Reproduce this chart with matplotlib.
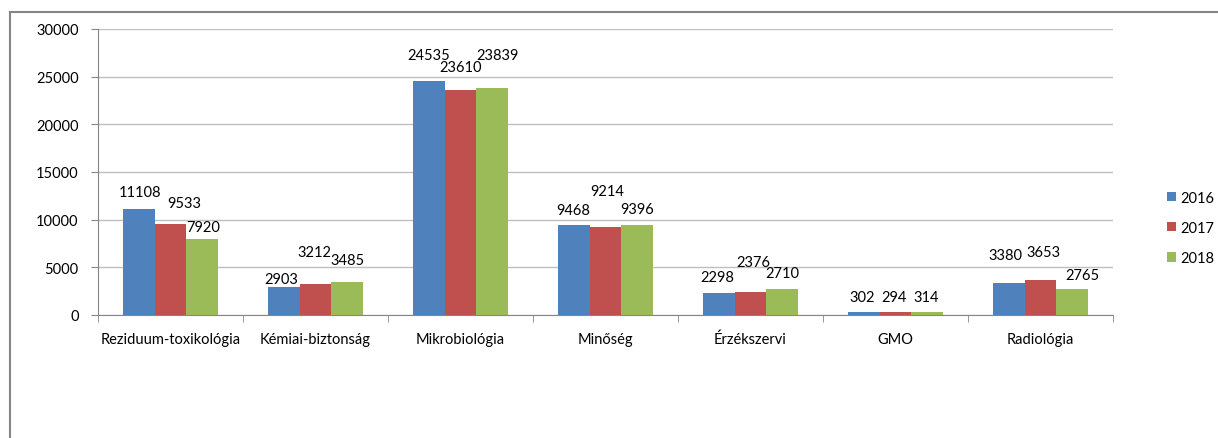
import numpy as np
import matplotlib.pyplot as plt
from matplotlib.lines import Line2D

plt.rcParams['font.family'] = ['Lato', 'DejaVu Sans']

categories = ["Reziduum-toxikológia", "Kémiai-biztonság", "Mikrobiológia",
              "Minőség", "Érzékszervi", "GMO", "Radiológia"]
years = ["2016", "2017", "2018"]
v2016 = [11108, 2903, 24535, 9468, 2298, 302, 3380]
v2017 = [9533, 3212, 23610, 9214, 2376, 294, 3653]
v2018 = [7920, 3485, 23839, 9396, 2710, 314, 2765]
series = [v2016, v2017, v2018]
colors = ["#4F81BD", "#C0504D", "#9BBB59"]

# hand placed label offsets (pixels) as in the original sheet
lab_dx = [[1, 14, 1], [-2, -1, 0], [0, 0, 5], [0, 2, 0], [-1, 3, 0], [-1, -1, -1], [-3, 3, 10]]
lab_dy = [[17, 21, 12], [8, 32, 22], [26, 23, 33], [15, 36, 16], [16, 30, 16], [15, 15, 15], [28, 28, 14]]

fs = 10.5
W, H = 1218, 439
fig = plt.figure(figsize=(W / 100, H / 100), dpi=100)
ax = fig.add_axes([98 / W, 1 - 316 / H, (1113 - 98) / W, (316 - 30) / H])

x = np.arange(len(categories))
bw = 0.22
for i, (vals, c, yr) in enumerate(zip(series, colors, years)):
    pos = x + (i - 1) * bw
    ax.bar(pos, vals, bw, color=c, label=yr, zorder=3)
    for j, v in enumerate(vals):
        ax.annotate(str(v), (pos[j], v), xytext=(lab_dx[j][i], lab_dy[j][i]),
                    textcoords='offset pixels', ha='center', va='center',
                    fontsize=fs, color='black')

ax.set_xlim(-0.5, len(categories) - 0.5)
ax.set_ylim(0, 30000)
ax.set_yticks(np.arange(0, 30001, 5000))
ax.grid(axis='y', color='#bfbfbf', linewidth=1, zorder=0)
ax.set_xticks(x)
ax.set_xticklabels(categories)
ax.set_xticks(np.arange(-0.5, len(categories), 1), minor=True)
ax.tick_params(axis='x', which='major', length=0, pad=12, labelsize=fs)
ax.tick_params(axis='x', which='minor', length=5, color='#868686')
ax.tick_params(axis='y', length=5, color='#868686', pad=9, labelsize=fs)
for s in ['top', 'right']:
    ax.spines[s].set_visible(False)
for s in ['left', 'bottom']:
    ax.spines[s].set_color('#868686')

ax.legend(loc='center left', bbox_to_anchor=(1167 / W, 1 - 229 / H),
          bbox_transform=fig.transFigure, frameon=False, fontsize=fs,
          handlelength=0.6, handleheight=0.6, handletextpad=0.3,
          labelspacing=1.1, borderpad=0, borderaxespad=0)

# outer chart frame (cut off at the right and bottom)
fig.add_artist(Line2D([10 / W, 10 / W], [0, 1 - 13 / H], color='#868686', lw=1.5))
fig.add_artist(Line2D([10 / W, 1], [1 - 13 / H, 1 - 13 / H], color='#868686', lw=1.5))

fig.savefig("out.png", dpi=100)
